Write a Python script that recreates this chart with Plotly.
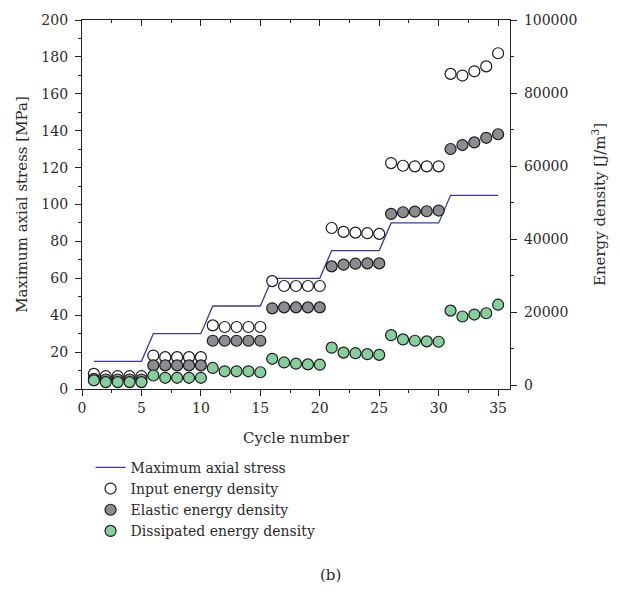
import plotly.graph_objects as go

cycles = list(range(1, 36))
max_stress = [15, 15, 15, 15, 15, 30, 30, 30, 30, 30, 45, 45, 45, 45, 45,
              60, 60, 60, 60, 60, 75, 75, 75, 75, 75, 90, 90, 90, 90, 90,
              105, 105, 105, 105, 105]
input_energy = [3150, 2500, 2500, 2500, 2500, 8160, 7720, 7720, 7720, 7720,
                16420, 15970, 15970, 15970, 15970, 28530, 27190, 27190, 27190, 27190,
                43070, 42000, 41810, 41640, 41460, 60840, 60110, 59950, 59950, 59950,
                85250, 84800, 85960, 87300, 90900]
elastic_energy = [1800, 1600, 1600, 1600, 1600, 5460, 5460, 5460, 5460, 5460,
                  12200, 12200, 12200, 12200, 12200, 21080, 21350, 21350, 21350, 21350,
                  32570, 33030, 33300, 33380, 33380, 46920, 47380, 47570, 47650, 47840,
                  64690, 65770, 66490, 67760, 68730]
dissipated_energy = [1350, 890, 890, 890, 890, 2690, 2070, 2070, 2070, 2070,
                     4760, 3850, 3850, 3850, 3580, 7270, 6270, 5920, 5740, 5650,
                     10310, 8960, 8800, 8530, 8350, 13730, 12570, 12200, 12030, 11930,
                     20460, 18840, 19380, 19740, 22070]

FONT = "DejaVu Serif"
TXT = "#2a2a2a"
LINE_COL = "#3b3b9c"

fig = go.Figure()
fig.add_trace(go.Scatter(x=cycles, y=max_stress, mode="lines", name="Maximum axial stress",
                         line=dict(color=LINE_COL, width=1.3)))
mk = dict(size=11, line=dict(color="#1a1a1a", width=1.2))
fig.add_trace(go.Scatter(x=cycles, y=input_energy, mode="markers", name="Input energy density",
                         yaxis="y2", marker=dict(color="white", **mk)))
fig.add_trace(go.Scatter(x=cycles, y=elastic_energy, mode="markers", name="Elastic energy density",
                         yaxis="y2", marker=dict(color="#8c8c90", **mk)))
fig.add_trace(go.Scatter(x=cycles, y=dissipated_energy, mode="markers", name="Dissipated energy density",
                         yaxis="y2", marker=dict(color="#86cf9c", **mk)))
# invisible helper so the top axis (inside ticks) is drawn
fig.add_trace(go.Scatter(x=[0], y=[0], xaxis="x2", mode="markers", showlegend=False,
                         marker=dict(opacity=0), hoverinfo="skip"))

axcommon = dict(showline=True, linecolor="#222", linewidth=1.2, showgrid=False, zeroline=False,
                tickcolor="#222", tickfont=dict(family=FONT, size=14, color=TXT))

fig.update_layout(
    width=620, height=608,
    margin=dict(l=82, r=110, t=14, b=219),
    paper_bgcolor="white", plot_bgcolor="white",
    font=dict(family=FONT, size=14, color=TXT),
    xaxis=dict(range=[0, 36], dtick=5, tick0=0, ticks="outside", ticklen=6,
               minor=dict(dtick=2.5, ticks="outside", ticklen=3, tickcolor="#222"),
               title=dict(text="Cycle number", font=dict(family=FONT, size=15, color=TXT), standoff=17),
               **axcommon),
    xaxis2=dict(range=[0, 36], overlaying="x", side="top", dtick=5, tick0=0, ticks="inside",
                ticklen=6, showticklabels=False,
                minor=dict(dtick=2.5, ticks="inside", ticklen=3, tickcolor="#222"),
                **axcommon),
    yaxis=dict(range=[0, 200], dtick=20, ticks="outside", ticklen=6, ticklabelstandoff=4,
               minor=dict(dtick=10, ticks="outside", ticklen=3, tickcolor="#222"),
               title=dict(text="Maximum axial stress [MPa]", font=dict(family=FONT, size=15, color=TXT), standoff=10),
               **axcommon),
    yaxis2=dict(range=[-1000, 100000], overlaying="y", side="right", dtick=20000, tick0=0,
                ticks="outside", ticklen=6, tickformat="d", ticklabelstandoff=4,
                minor=dict(dtick=10000, ticks="outside", ticklen=3, tickcolor="#222"),
                title=dict(text="Energy density [J/m<sup>3</sup>]", font=dict(family=FONT, size=15, color=TXT), standoff=18),
                **axcommon),
    legend=dict(x=0.02, y=-0.17, xanchor="left", yanchor="top", orientation="v",
                font=dict(family=FONT, size=14, color=TXT), bgcolor="rgba(0,0,0,0)",
                tracegroupgap=0),
    annotations=[dict(text="(b)", x=0.58, y=-0.505, xref="paper", yref="paper",
                      xanchor="center", yanchor="middle",
                      showarrow=False, font=dict(family=FONT, size=15, color=TXT))],
    showlegend=True,
)

fig.write_html("out.html")
